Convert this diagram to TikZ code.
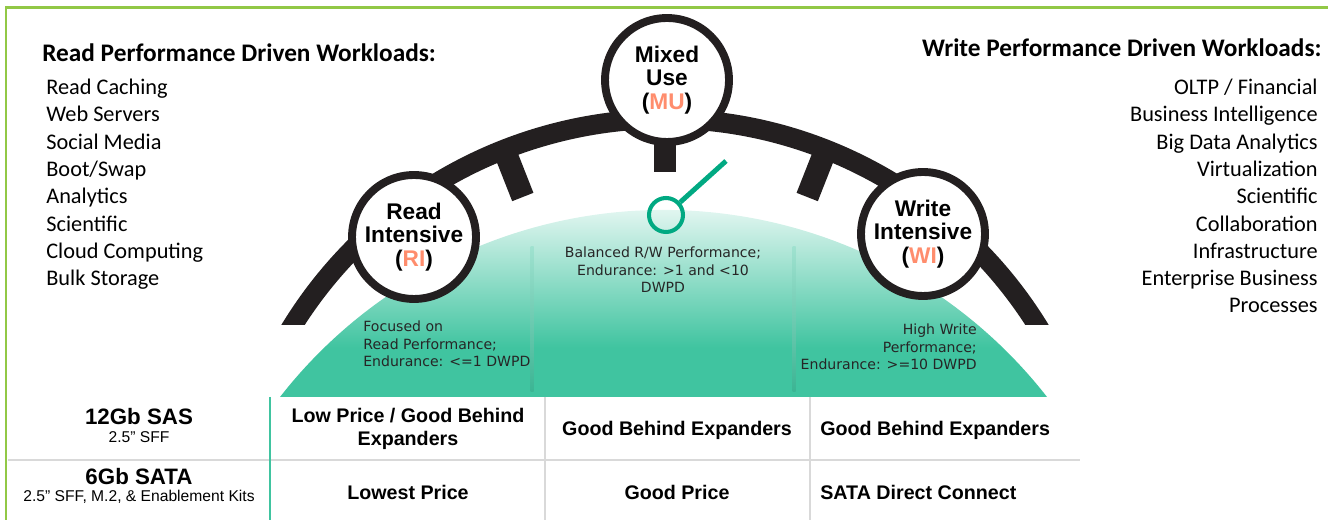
\documentclass[tikz,border=0pt]{standalone}
\usepackage{fontspec}
\setmainfont{Carlito}
\newfontfamily\arialfont{Liberation Sans}
\newfontfamily\tahfont{DejaVu Sans}
\usetikzlibrary{positioning}

\definecolor{framegreen}{RGB}{146,200,70}
\definecolor{dometeal}{RGB}{64,196,160}
\definecolor{needlegreen}{RGB}{1,169,130}
\definecolor{codeorange}{RGB}{255,141,109}
\definecolor{arcblack}{RGB}{35,31,32}
\definecolor{gridgray}{RGB}{217,217,217}

% dome fade: bottom teal, top almost white
\pgfdeclareverticalshading{domefade}{100bp}{color(0bp)=(dometeal); color(37bp)=(dometeal); color(75bp)=(dometeal!4); color(100bp)=(dometeal!4)}

\begin{document}
\begin{tikzpicture}[
  x=0.02cm, y=0.02cm,
  frame/.style={draw=framegreen,line width=1.7pt},
  band/.style={draw=arcblack,line width=11.3pt},
  tick/.style={draw=arcblack,line width=13pt},
  dial/.style={circle,draw=arcblack,line width=4.5pt,fill=white,minimum size=2.48cm,inner sep=0pt,align=center,font=\arialfont\bfseries\fontsize{12.9}{13.2}\selectfont},
  needlering/.style={circle,draw=needlegreen,line width=2.3pt,minimum size=0.68cm,inner sep=0pt},
  needle/.style={draw=needlegreen,line width=2.8pt},
  divider/.style={top color=dometeal!50,bottom color=dometeal!92!black},
  desc/.style={inner sep=0pt,text=black!85,font=\tahfont\fontsize{8}{10}\selectfont},
  whead/.style={inner sep=0pt,font=\bfseries\fontsize{14.4}{16}\selectfont},
  witem/.style={inner sep=0pt,font=\fontsize{12.7}{15}\selectfont},
  hdr/.style={inner sep=0pt,font=\arialfont\bfseries\fontsize{12.7}{14}\selectfont},
  sub/.style={inner sep=0pt,font=\arialfont\fontsize{8.9}{10}\selectfont},
  cell/.style={inner sep=0pt,align=center,font=\arialfont\bfseries\fontsize{11.2}{13}\selectfont},
  grid/.style={draw=gridgray,line width=1.1pt},
  tealrule/.style={draw=dometeal,line width=1.7pt}
]
\useasboundingbox (0,0) rectangle (1328,520);

% Frame
\draw[frame] (6,0) -- (6,512) -- (1328,512);

% Dome
\shade[shading=domefade] (280,123) arc[start angle=142,end angle=38,radius=486.7] -- cycle;
\shade[divider] (530.5,273) rectangle (533.5,128);
\shade[divider] (792.5,273) rectangle (795.5,128);

% Black arc and ticks
\coordinate (ac) at (665,-38);
\begin{scope}
  \clip (0,195) rectangle (1328,520);
  \draw[band] ([shift={(150:439)}]ac) arc[start angle=150,end angle=30,radius=439];
\end{scope}
\draw[tick] ([shift={(111.5:436)}]ac) -- ([shift={(111.5:388)}]ac);
\draw[tick] ([shift={(90:436)}]ac) -- ([shift={(90:386)}]ac);
\draw[tick] ([shift={(68.5:436)}]ac) -- ([shift={(68.5:388)}]ac);

% Dials
\node[dial] (mu) at (667,440) {Mixed\\Use\\(\textcolor{codeorange}{MU})};
\node[dial] (ri) at (414,283) {Read\\Intensive\\(\textcolor{codeorange}{RI})};
\node[dial] (wi) at (923,286) {Write\\Intensive\\(\textcolor{codeorange}{WI})};

% Gauge needle
\node[needlering] (gauge) at (666,305) {};
\coordinate (gaugetip) at (726,359);
\draw[needle] (gauge) -- (gaugetip);

% Dome texts
\node[desc,anchor=west,align=left] (ridesc) at (363,176) {Focused on\\Read Performance;\\Endurance: <=1 DWPD};
\node[desc,align=center] (mudesc) at (663,250) {Balanced R/W Performance;\\Endurance: >1 and <10\\DWPD};
\node[desc,anchor=east,align=right] (widesc) at (977,173) {High Write\\Performance;\\Endurance: >=10 DWPD};

% Read workloads (left)
\node[whead,anchor=base west] (readhead) at (42,458) {Read Performance Driven Workloads:};
\node[witem,anchor=base west] (rd1) at (46,425) {Read Caching};
\node[witem,anchor=base west] (rd2) at (46,398) {Web Servers};
\node[witem,anchor=base west] (rd3) at (46,370) {Social Media};
\node[witem,anchor=base west] (rd4) at (46,343) {Boot/Swap};
\node[witem,anchor=base west] (rd5) at (46,316) {Analytics};
\node[witem,anchor=base west] (rd6) at (46,288) {Scientific};
\node[witem,anchor=base west] (rd7) at (46,261) {Cloud Computing};
\node[witem,anchor=base west] (rd8) at (46,234) {Bulk Storage};

% Write workloads (right)
\node[whead,anchor=base east] (writehead) at (1322,463) {Write Performance Driven Workloads:};
\node[witem,anchor=base east] (wr1) at (1318,425) {OLTP / Financial};
\node[witem,anchor=base east] (wr2) at (1318,398) {Business Intelligence};
\node[witem,anchor=base east] (wr3) at (1318,370) {Big Data Analytics};
\node[witem,anchor=base east] (wr4) at (1318,343) {Virtualization};
\node[witem,anchor=base east] (wr5) at (1318,316) {Scientific};
\node[witem,anchor=base east] (wr6) at (1318,288) {Collaboration};
\node[witem,anchor=base east] (wr7) at (1318,261) {Infrastructure};
\node[witem,anchor=base east] (wr8) at (1318,234) {Enterprise Business};
\node[witem,anchor=base east] (wr9) at (1318,207) {Processes};

% Table
\draw[grid] (8,60) -- (1080,60);
\draw[grid] (545,123) -- (545,0);
\draw[grid] (810,123) -- (810,0);
\draw[tealrule] (270,123) -- (270,0);

\node[hdr] (sas) at (139,103) {12Gb SAS};
\node[sub] (sasff) at (139,83) {2.5” SFF};
\node[hdr] (sata) at (139,43) {6Gb SATA};
\node[sub] (sataff) at (139,23) {2.5” SFF, M.2, \& Enablement Kits};

\node[cell] (risas) at (408,91) {Low Price / Good Behind\\Expanders};
\node[cell] (musas) at (677,90) {Good Behind Expanders};
\node[cell,anchor=west] (wisas) at (820,90) {Good Behind Expanders};
\node[cell] (risata) at (408,28) {Lowest Price};
\node[cell] (musata) at (677,28) {Good Price};
\node[cell,anchor=west] (wisata) at (820,28) {SATA Direct Connect};

\end{tikzpicture}
\end{document}
